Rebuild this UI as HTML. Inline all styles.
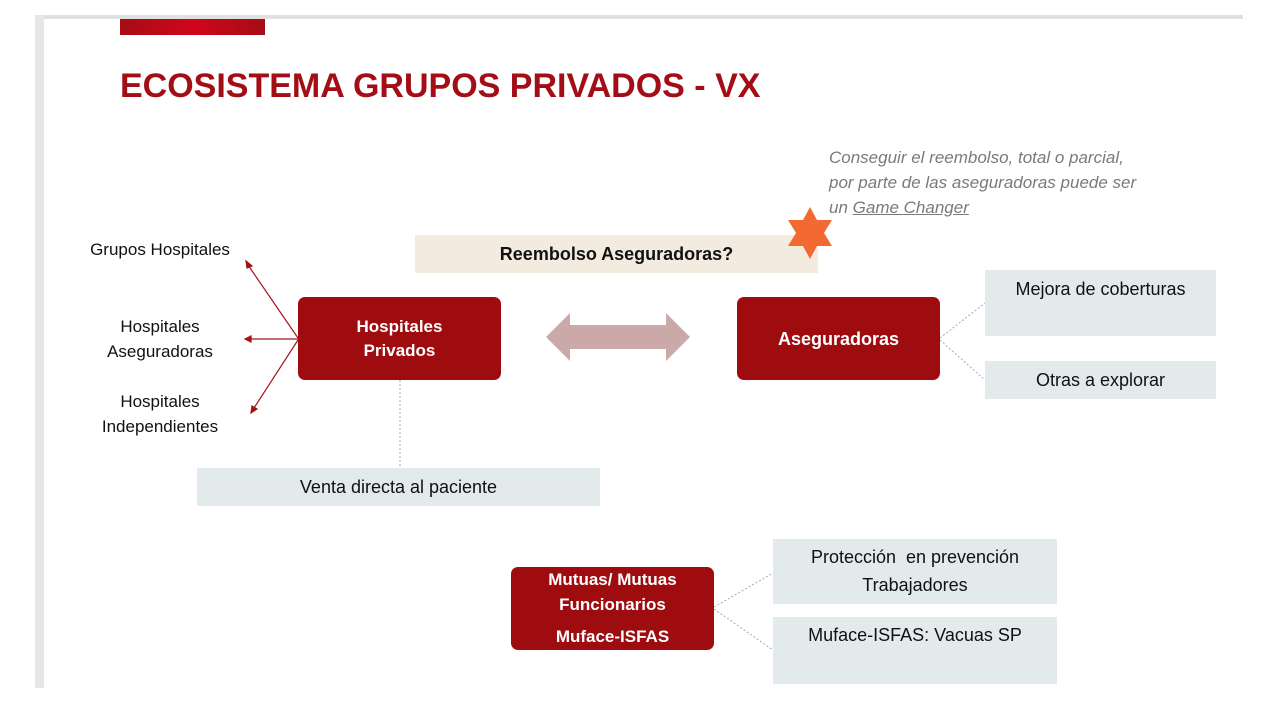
<!DOCTYPE html>
<html><head><meta charset="utf-8"><style>
body{margin:0;width:1280px;height:720px;background:#fff;overflow:hidden;position:relative;font-family:"Liberation Sans",sans-serif}
.a{position:absolute}
.t{position:absolute;font-size:17px;color:#111;text-align:center;line-height:25px}
.red{position:absolute;background:#9e0c10;border-radius:7px;color:#fff;font-weight:bold;font-size:17px;text-align:center;display:flex;align-items:center;justify-content:center;line-height:24px}
.gb{position:absolute;background:#e2eaec;font-size:18px;color:#111;text-align:center}
</style></head><body>
<div class="a" style="left:35px;top:15px;width:1208px;height:4px;background:#e0e0e0"></div>
<div class="a" style="left:35px;top:15px;width:9px;height:673px;background:#e6e6e6"></div>
<div class="a" style="left:120px;top:19px;width:145px;height:16px;background:linear-gradient(90deg,#a50d15,#d0061c,#a50d15)"></div>
<div class="a" style="left:120px;top:67px;font-size:34px;font-weight:bold;color:#a30e16">ECOSISTEMA GRUPOS PRIVADOS - VX</div>
<div class="a" style="left:829px;top:145px;font-size:17px;font-style:italic;color:#7a7a7a;line-height:25px">Conseguir el reembolso, total o parcial,<br>por parte de las aseguradoras puede ser<br>un <u>Game Changer</u></div>
<div class="a" style="left:415px;top:235px;width:403px;height:38px;background:#f3ebdf;font-weight:bold;font-size:18px;text-align:center;line-height:38px;color:#111">Reembolso Aseguradoras?</div>
<svg class="a" style="left:0;top:0" width="1280" height="720">
<polygon points="810,207 817,220 832,220 824,233 832,246 817,246 810,259 803,246 788,246 796,233 788,220 803,220" fill="#f26a32"/>
<polygon points="546,337 570,313 570,325 666,325 666,313 690,337 666,361 666,349 570,349 570,361" fill="#cba9a8"/>
<g stroke="#a01418" stroke-width="1.2" fill="#a01418">
<line x1="298" y1="338" x2="248" y2="265"/><polygon points="246,261 252,266 247,268"/>
<line x1="298" y1="339" x2="250" y2="339"/><polygon points="245,339 251,336 251,342"/>
<line x1="298" y1="340" x2="254" y2="408"/><polygon points="251,413 252,406 257,409"/>
</g>
<g stroke="#9ab0b8" stroke-width="1" stroke-dasharray="2,2" fill="none">
<line x1="400" y1="380" x2="400" y2="468"/>
<line x1="940" y1="338" x2="985" y2="303"/>
<line x1="940" y1="340" x2="985" y2="380"/>
<line x1="714" y1="607" x2="773" y2="573"/>
<line x1="714" y1="609" x2="773" y2="650"/>
</g>
</svg>
<div class="t" style="left:70px;top:237px;width:180px">Grupos Hospitales</div>
<div class="t" style="left:70px;top:314px;width:180px">Hospitales<br>Aseguradoras</div>
<div class="t" style="left:70px;top:389px;width:180px">Hospitales<br>Independientes</div>
<div class="red" style="left:298px;top:297px;width:203px;height:83px">Hospitales<br>Privados</div>
<div class="red" style="left:737px;top:297px;width:203px;height:83px;font-size:18px">Aseguradoras</div>
<div class="gb" style="left:985px;top:270px;width:231px;height:66px;line-height:38px">Mejora de coberturas</div>
<div class="gb" style="left:985px;top:361px;width:231px;height:38px;line-height:38px">Otras a explorar</div>
<div class="gb" style="left:197px;top:468px;width:403px;height:38px;line-height:38px">Venta directa al paciente</div>
<div class="red" style="left:511px;top:567px;width:203px;height:83px;display:block"><div style="line-height:25px">Mutuas/ Mutuas<br>Funcionarios</div><div style="margin-top:10px;line-height:20px">Muface-ISFAS</div></div>
<div class="gb" style="left:773px;top:539px;width:284px;height:65px;line-height:28px;padding-top:4px;box-sizing:border-box">Protección&nbsp; en prevención<br>Trabajadores</div>
<div class="gb" style="left:773px;top:617px;width:284px;height:67px;line-height:36px">Muface-ISFAS: Vacuas SP</div>
</body></html>
